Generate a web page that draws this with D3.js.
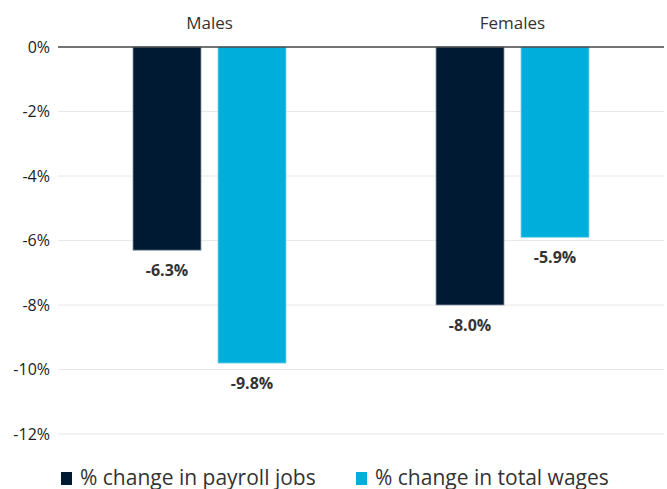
<!DOCTYPE html>
<html>
<head>
<meta charset="utf-8">
<script src="https://cdn.jsdelivr.net/npm/d3@7"></script>
<style>
  body { margin: 0; background: #fff; }
  text { font-family: "Open Sans", "Noto Sans", sans-serif; }
</style>
</head>
<body>
<div id="chart"></div>
<script>
var categories = ['Males', 'Females'];
var seriesNames = ['% change in payroll jobs', '% change in total wages'];
var payrollJobs = [-6.3, -8.0];
var totalWages = [-9.8, -5.9];
var yTicks = [0, -2, -4, -6, -8, -10, -12];

(function(){
    var W = 667, H = 489;
    var margin = { top: 47, right: 3, bottom: 55, left: 58 };
    var width = W - margin.left - margin.right;
    var height = H - margin.top - margin.bottom;
    var colors = ['#011a33', '#00aedb'];

    var svg = d3.select('#chart').append('svg')
        .attr('width', W).attr('height', H)
        .append('g')
        .attr('transform', 'translate(' + margin.left + ',' + margin.top + ')');

    var y = d3.scaleLinear().domain([0, -12]).range([0, height]);
    var x0 = d3.scaleBand().domain(categories).range([0, width]);
    var groupW = 153;
    var x1 = d3.scaleBand().domain(seriesNames).range([0, groupW]).paddingInner(0.2);

    // gridlines
    svg.append('g').selectAll('line')
        .data(yTicks.filter(function(d){ return d !== 0; }))
        .enter().append('line')
        .attr('x1', 0).attr('x2', width)
        .attr('y1', function(d){ return y(d); })
        .attr('y2', function(d){ return y(d); })
        .attr('stroke', '#e8e8e8').attr('stroke-width', 1);

    // y tick labels
    svg.append('g').selectAll('text')
        .data(yTicks).enter().append('text')
        .attr('x', -8).attr('y', function(d){ return y(d); })
        .attr('dy', '0.35em')
        .attr('text-anchor', 'end')
        .style('font-size', '16px').style('fill', '#222')
        .text(function(d){ return d + '%'; });

    var rows = categories.map(function(c, i){
        return { cat: c, vals: [payrollJobs[i], totalWages[i]] };
    });

    var groups = svg.selectAll('.grp').data(rows).enter().append('g')
        .attr('transform', function(d){
            return 'translate(' + (x0(d.cat) + x0.bandwidth() / 2 - groupW / 2) + ',0)';
        });

    groups.selectAll('rect')
        .data(function(d){ return d.vals.map(function(v, i){ return { k: seriesNames[i], v: v, i: i }; }); })
        .enter().append('rect')
        .attr('x', function(d){ return x1(d.k); })
        .attr('y', y(0))
        .attr('width', x1.bandwidth())
        .attr('height', function(d){ return y(d.v) - y(0); })
        .attr('fill', function(d){ return colors[d.i]; })
        .attr('stroke', function(d){ return d.i === 0 ? '#8a97a6' : '#7fd3ea'; })
        .attr('stroke-width', 0.8);

    groups.selectAll('.lbl')
        .data(function(d){ return d.vals.map(function(v, i){ return { k: seriesNames[i], v: v }; }); })
        .enter().append('text')
        .attr('x', function(d){ return x1(d.k) + x1.bandwidth() / 2; })
        .attr('y', function(d){ return y(d.v) + 26; })
        .attr('text-anchor', 'middle')
        .style('font-size', '16px').style('font-weight', 'bold').style('fill', '#333')
        .text(function(d){ return d.v.toFixed(1) + '%'; });

    // category titles
    svg.selectAll('.cat').data(categories).enter().append('text')
        .attr('x', function(d){ return x0(d) + x0.bandwidth() / 2; })
        .attr('y', -18)
        .attr('text-anchor', 'middle')
        .style('font-size', '17px').style('fill', '#333')
        .text(function(d){ return d; });

    // zero line
    svg.append('line')
        .attr('x1', 0).attr('x2', width)
        .attr('y1', y(0)).attr('y2', y(0))
        .attr('stroke', '#444').attr('stroke-width', 1.3);

    // legend
    var legend = d3.select('#chart svg').append('g')
        .attr('transform', 'translate(61,485)');
    var legX = [0, 295];
    seriesNames.forEach(function(s, i){
        legend.append('rect')
            .attr('x', legX[i]).attr('y', -13)
            .attr('width', 11).attr('height', 13)
            .attr('fill', colors[i]);
        legend.append('text')
            .attr('x', legX[i] + 19).attr('y', 0)
            .style('font-size', '21px').style('fill', '#333')
            .text(s);
    });
})();
</script>
</body>
</html>
